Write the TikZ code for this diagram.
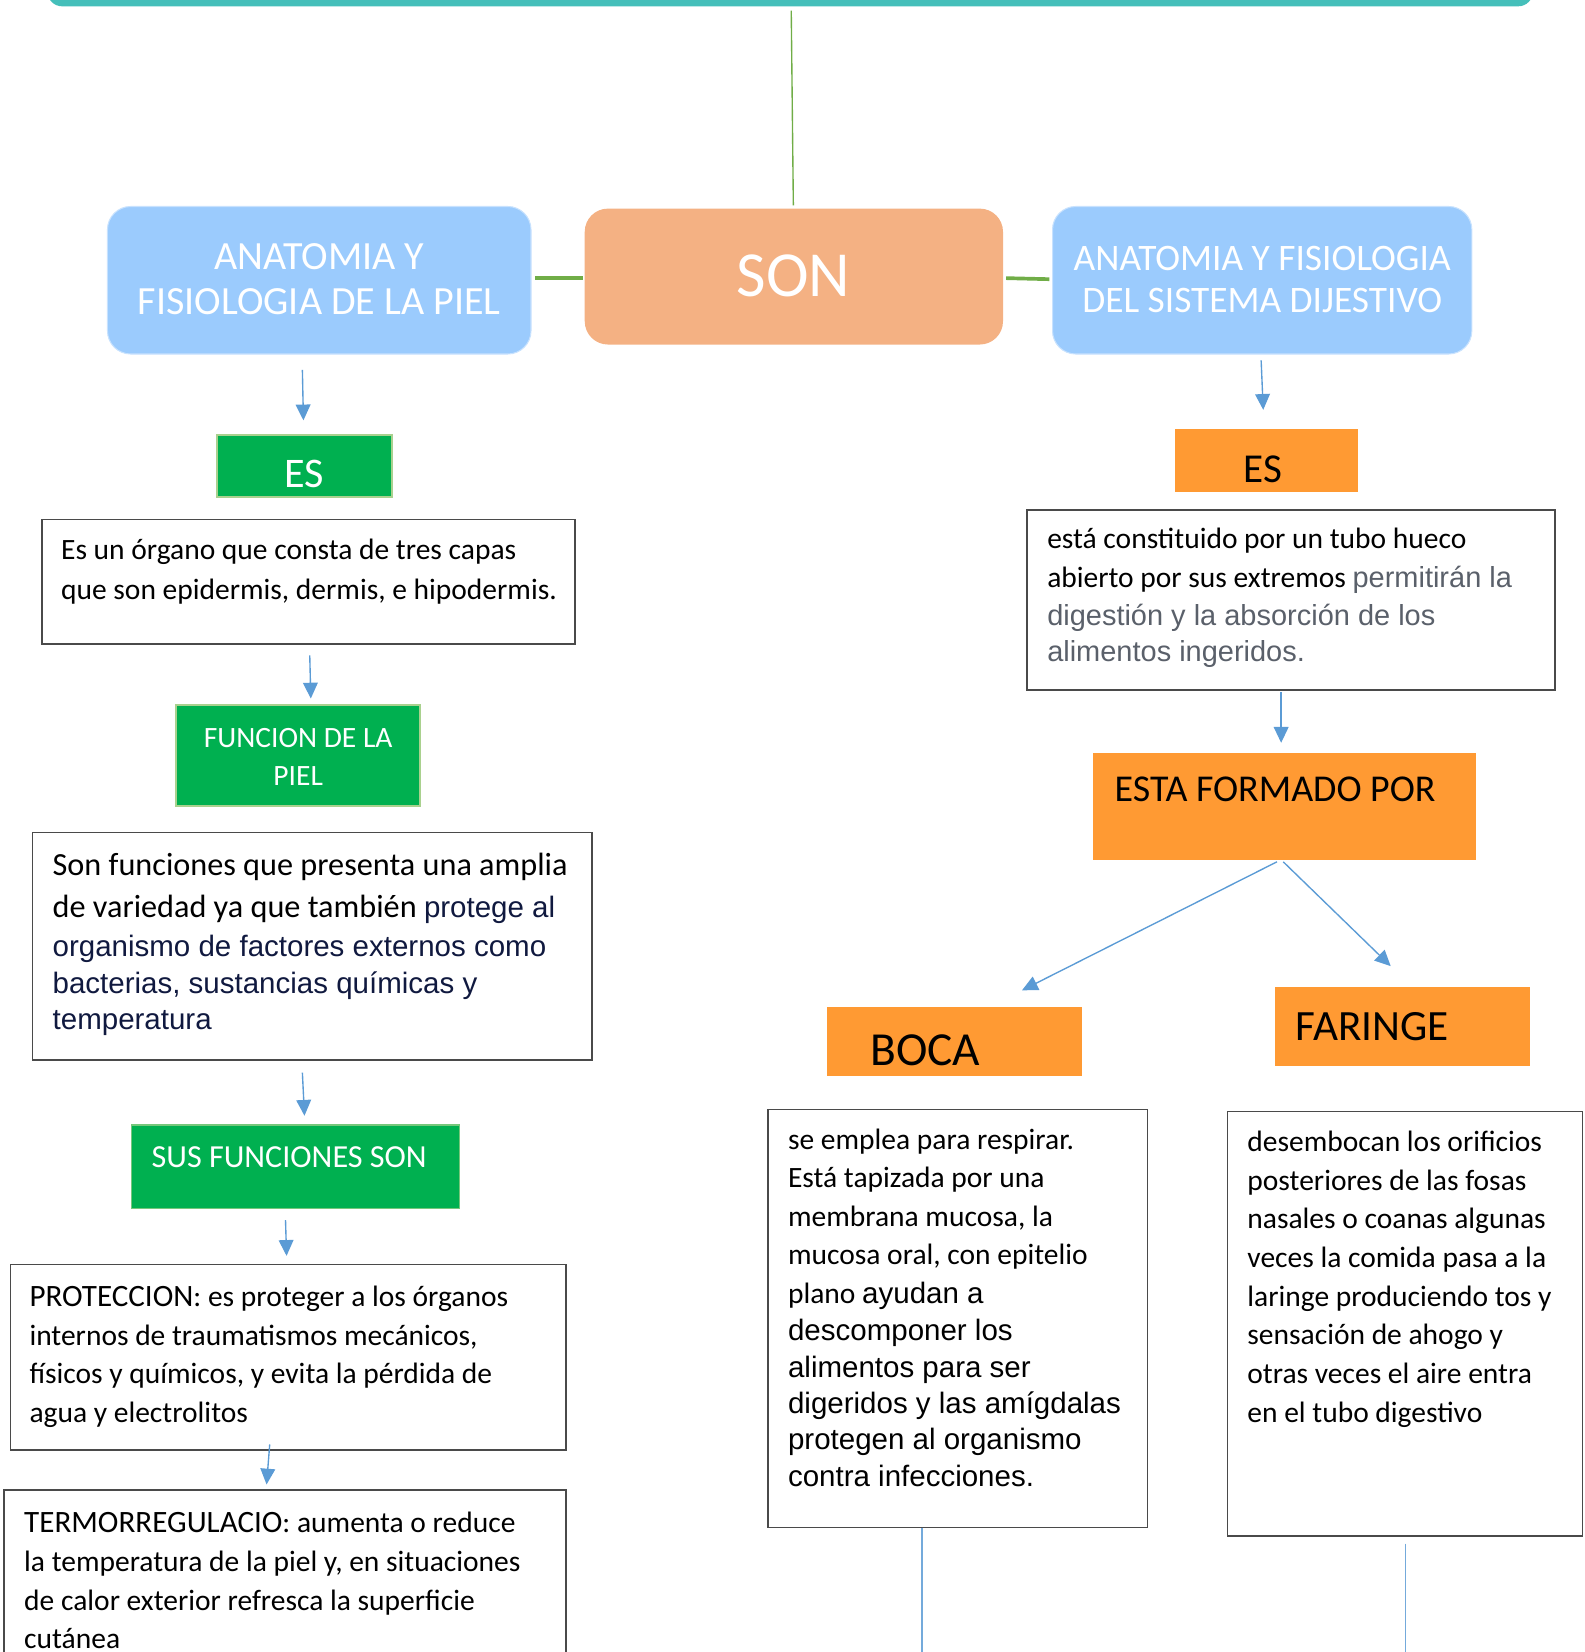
\documentclass[tikz,border=0pt]{standalone}
\usepackage{fontspec}
\setmainfont{Carlito}
\newfontfamily\arialf{Liberation Sans}
\usetikzlibrary{arrows.meta,calc}
\definecolor{barteal}{HTML}{45BFBA}
\definecolor{lgreen}{HTML}{70AD47}
\definecolor{skyb}{HTML}{9BCBFD}
\definecolor{sonor}{HTML}{F4B183}
\definecolor{gfill}{HTML}{00B050}
\definecolor{gedge}{HTML}{A9D18E}
\definecolor{orfill}{HTML}{FF9A33}
\definecolor{arrb}{HTML}{5B9BD5}
\definecolor{bord}{HTML}{4A4A4A}
\definecolor{navyt}{HTML}{10193F}
\definecolor{grayt}{HTML}{5A606A}
\begin{document}
\begin{tikzpicture}[x=1pt,y=-1pt,
  every node/.style={inner sep=0pt,outer sep=0pt},
  bluebox/.style={fill=skyb, draw=skyb!55!white, line width=1pt, rounded corners=22pt},
  sonbox/.style={fill=sonor, rounded corners=22pt},
  gbox/.style={fill=gfill, draw=gedge, line width=2pt},
  obox/.style={fill=orfill},
  tbox/.style={draw=bord, line width=1.5pt},
  txt/.style={anchor=base west, align=left},
  arr/.style={draw=arrb, line width=1.3pt, -{Triangle[length=15pt,width=14pt]}},
  gline/.style={draw=lgreen, line width=1.3pt},
  gthick/.style={draw=lgreen, line width=3.5pt},
  vline/.style={draw=arrb!85, line width=1.3pt},
]
\useasboundingbox (0,0) rectangle (1504,1568);
\clip (0,0) rectangle (1504,1568);

% top bar
\node[fill=barteal, rounded corners=14pt, minimum width=1410pt, minimum height=60pt, anchor=south] (top) at (750,6) {};

% level 1
\node[bluebox, minimum width=402pt, minimum height=140pt] (piel) at (303,266) {};
\node[text=white, align=center, font=\fontsize{38}{42}\selectfont] (pielt) at (303,265) {ANATOMIA Y\\FISIOLOGIA DE LA PIEL};
\node[sonbox, minimum width=397pt, minimum height=129pt] (son) at (753.5,262.5) {};
\node[text=white, font=\fontsize{61}{63}\selectfont] (sont) at (753,262) {SON};
\node[bluebox, minimum width=398pt, minimum height=140pt] (dig) at (1198,266) {};
\node[text=white, align=center, font=\fontsize{35.5}{40}\selectfont] (digt) at (1198,265.5) {ANATOMIA Y FISIOLOGIA\\DEL SISTEMA DIJESTIVO};

\draw[gline] ($(top.south)+(1,4)$) -- ($(son.north)+(-0.5,-3)$);
\draw[gthick] ($(piel.east)+(4,-2)$) -- ($(son.west)+(-2,1.5)$);
\draw[gthick] ($(son.east)+(3,1.5)$) -- ($(dig.west)+(-3,-1)$);

% left column
\node[gbox, minimum width=166pt, minimum height=59pt] (es1) at (289,442.5) {};
\node[text=white, font=\fontsize{40}{42}\selectfont] (es1t) at (289,450) {ES};
\draw[arr] ($(piel.south)+(-16,15)$) -- ($(es1.north)+(-1,-14)$);

\node[tbox, minimum width=506pt, minimum height=118pt] (b1) at (293,552) {};
\node[txt, font=\fontsize{28}{38}\selectfont] (t1) at (58,531) {\parbox[t]{600pt}{Es un órgano que consta de tres capas\\que son epidermis, dermis, e hipodermis.}};

\node[gbox, minimum width=232pt, minimum height=96pt] (fun) at (283,717) {};
\node[text=white, align=center, font=\fontsize{28}{36}\selectfont] (funt) at (283,718) {FUNCION DE LA\\PIEL};
\draw[arr] ($(b1.south)+(1,11)$) -- ($(fun.north)+(12,-6)$);

\node[tbox, minimum width=531pt, minimum height=216pt] (b2) at (296.5,898) {};
\node[txt, font=\fontsize{30.6}{35}\selectfont] (t2) at (50,831) {\parbox[t]{600pt}{Son funciones que presenta una amplia\\[5pt]de variedad ya que también {\arialf\fontsize{28}{35}\selectfont\color{navyt}protege al}\\[2pt]{\arialf\fontsize{28}{35}\selectfont\color{navyt}organismo de factores externos como}\\{\arialf\fontsize{28}{35}\selectfont\color{navyt}bacterias, sustancias químicas y}\\[-1pt]{\arialf\fontsize{28}{35}\selectfont\color{navyt}temperatura}}};

\node[gbox, draw=gedge!70!gfill, line width=1.5pt, minimum width=311pt, minimum height=79pt] (sus) at (280.5,1107.5) {};
\node[text=white, anchor=west, font=\fontsize{30.5}{32}\selectfont] (sust) at (144,1098) {SUS FUNCIONES SON};
\draw[arr] ($(b2.south)+(-9.5,12)$) -- ($(sus.north)+(8.5,-9)$);

\node[tbox, minimum width=527pt, minimum height=176pt] (b3) at (273.5,1288) {};
\node[txt, font=\fontsize{28}{36.7}\selectfont] (t3) at (28,1240) {\parbox[t]{600pt}{{\fontsize{29.5}{36.7}\selectfont PROTECCION}: es proteger a los órganos\\internos de traumatismos mecánicos,\\físicos y químicos, y evita la pérdida de\\agua y electrolitos}};
\draw[arr] ($(sus.south)+(-9.5,11)$) -- ($(b3.north)+(-1.5,-8)$);

\node[tbox, minimum width=533pt, minimum height=186pt] (b4) at (270.5,1507) {};
\node[txt, font=\fontsize{28}{36.7}\selectfont] (t4) at (23,1455) {\parbox[t]{600pt}{{\fontsize{29.5}{36.7}\selectfont TERMORREGULACIO}: aumenta o reduce\\la temperatura de la piel y, en situaciones\\de calor exterior refresca la superficie\\cutánea}};
\draw[arr] ($(b3.south)+(-17.5,-5)$) -- ($(b4.north)+(-17.5,-5)$);

% right column
\node[obox, minimum width=174pt, minimum height=60pt] (es2) at (1202,437) {};
\node[text=black, font=\fontsize{39}{41}\selectfont] (es2t) at (1199,445) {ES};
\draw[arr] ($(dig.south)+(-1,6)$) -- ($(es2.north)+(-3,-18)$);

\node[tbox, minimum width=501pt, minimum height=171pt] (b5) at (1225.5,569.5) {};
\node[txt, font=\fontsize{28}{36}\selectfont] (t5) at (994,521) {\parbox[t]{600pt}{está constituido por un tubo hueco\\[1pt]abierto por sus extremos {\arialf\fontsize{27.5}{36}\selectfont\color{grayt}permitirán la}\\{\arialf\fontsize{27.5}{36}\selectfont\color{grayt}digestión y la absorción de los}\\[-2pt]{\arialf\fontsize{27.5}{36}\selectfont\color{grayt}alimentos ingeridos.}}};

\node[obox, minimum width=364pt, minimum height=101pt] (form) at (1219,765.5) {};
\node[text=black, anchor=west, font=\fontsize{36}{38}\selectfont] (formt) at (1058,749) {ESTA FORMADO POR};
\draw[arr] ($(b5.south)+(-9.5,2)$) -- ($(form.north)+(-3,-10)$);

\node[obox, minimum width=242pt, minimum height=65pt] (boca) at (906,988.5) {};
\node[text=black, anchor=west, font=\fontsize{45}{47}\selectfont] (bocat) at (826,997) {BOCA};
\node[obox, minimum width=242pt, minimum height=75pt] (far) at (1331,974.5) {};
\node[text=black, anchor=west, font=\fontsize{41}{43}\selectfont] (fart) at (1230,974) {FARINGE};
\draw[arr] ($(form.south)+(-7,2)$) -- ($(boca.north)+(64,-16)$);
\draw[arr] ($(form.south)+(-1,2)$) -- ($(far.north)+(-11,-20)$);

\node[tbox, minimum width=360pt, minimum height=397pt] (b6) at (909,1251.5) {};
\node[txt, font=\fontsize{28}{36.5}\selectfont] (t6) at (748,1091) {\parbox[t]{600pt}{se emplea para respirar.\\Está tapizada por una\\membrana mucosa, la\\mucosa oral, con epitelio\\plano {\arialf ayudan a}\\[-1pt]{\arialf descomponer los}\\[-2pt]{\arialf alimentos para ser}\\[-2pt]{\arialf digeridos y las amígdalas}\\[-2pt]{\arialf protegen al organismo}\\[-2pt]{\arialf contra infecciones.}}};

\node[tbox, minimum width=337pt, minimum height=403pt] (b7) at (1333.5,1256.5) {};
\node[txt, font=\fontsize{28}{36.7}\selectfont] (t7) at (1184,1093) {\parbox[t]{600pt}{desembocan los orificios\\posteriores de las fosas\\nasales o coanas algunas\\veces la comida pasa a la\\laringe produciendo tos y\\sensación de ahogo y\\otras veces el aire entra\\en el tubo digestivo}};

\coordinate (e6) at (875,1590);
\coordinate (e7) at (1334,1590);
\draw[vline] ($(b6.south)+(-34,0)$) -- (e6);
\draw[vline] ($(b7.south)+(0.5,7)$) -- (e7);
\end{tikzpicture}
\end{document}
